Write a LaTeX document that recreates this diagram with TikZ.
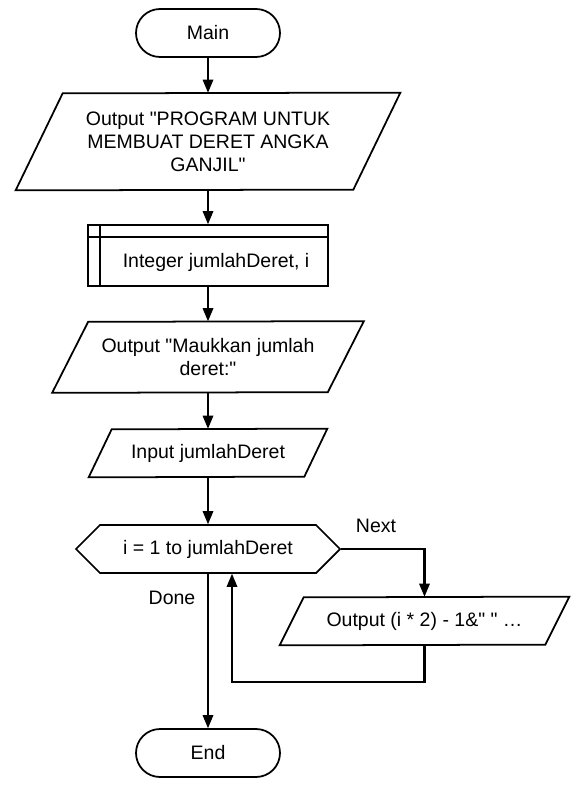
\documentclass[tikz,border=0pt]{standalone}
\usepackage{fontspec}
\setmainfont{Liberation Sans}
\usetikzlibrary{shapes.misc,shapes.symbols}

\begin{document}
\begin{tikzpicture}[scale=0.2]
    \tikzstyle{every node}+=[inner sep=0pt, font=\fontsize{11.1}{13.1}\selectfont, align=center]
    \tikzstyle{box}=[draw=black, line width=1pt]
    \tikzstyle{term}=[box, rounded rectangle, minimum width=28.8mm, minimum height=9.6mm]
    \tikzstyle{io}=[rectangle, minimum height=9.6mm]
    \tikzstyle{flow}=[black, line width=1.7pt, shorten >=1mm]
    \useasboundingbox (0,0) rectangle (58.6,-79.4);
    \node [term] (main) at (20.8,-3.3) {Main};
    \node [io, minimum width=76.8mm, minimum height=19.4mm] (out1) at (20.8,-14.15) {Output \textquotedbl PROGRAM UNTUK\\MEMBUAT DERET ANGKA\\GANJIL\textquotedbl};
    \draw [box] (out1.south west) -- ++(4.7,9.7) -- (out1.north east) -- ++(-4.7,-9.7) -- cycle;
    \node [box, minimum width=48mm, minimum height=12.2mm] (declbox) at (20.8,-25.55) {};
    \node (decl) at (21.6,-26.2) {Integer jumlahDeret, i};
    \draw [box] (declbox.north west) ++(0,-1.3) -- ++(24,0);
    \draw [box] (declbox.north west) ++(1.3,0) -- ++(0,-6.1);
    \node [io, minimum width=62.2mm, minimum height=14.2mm] (out2) at (20.8,-35.7) {Output \textquotedbl Maukkan jumlah\\deret:\textquotedbl};
    \draw [box] (out2.south west) -- ++(3.6,7.1) -- (out2.north east) -- ++(-3.6,-7.1) -- cycle;
    \node [io, minimum width=47.6mm] (inp) at (20.8,-45.3) {Input jumlahDeret};
    \draw [box] (inp.south west) -- ++(2.3,4.8) -- (inp.north east) -- ++(-2.3,-4.8) -- cycle;
    \node [box, signal, signal to=west and east, signal pointer angle=90, minimum width=52.8mm, minimum height=9.6mm] (loop) at (20.8,-54.9) {i = 1 to jumlahDeret};
    \node [io, minimum width=57.8mm] (out3) at (42.45,-62.1) {Output (i * 2) - 1\&\textquotedbl{} \textquotedbl{} …};
    \draw [box] (out3.south west) -- ++(2.4,4.8) -- (out3.north east) -- ++(-2.4,-4.8) -- cycle;
    \node [term] (stop) at (20.8,-75.3) {End};
    \node (next) at (37.6,-52.6) {Next};
    \node (donelbl) at (17.2,-59.8) {Done};
    \coordinate (back) at (23.2,-68.2);
    \draw [flow] (main.south) -- (out1.north);
    \fill [black] (out1.north) -- ++(0.55,1.3) -- ++(-1.1,0) -- cycle;
    \draw [flow] (out1.south) -- (declbox.north);
    \fill [black] (declbox.north) -- ++(0.55,1.3) -- ++(-1.1,0) -- cycle;
    \draw [flow] (declbox.south) -- (out2.north);
    \fill [black] (out2.north) -- ++(0.55,1.3) -- ++(-1.1,0) -- cycle;
    \draw [flow] (out2.south) -- (inp.north);
    \fill [black] (inp.north) -- ++(0.55,1.3) -- ++(-1.1,0) -- cycle;
    \draw [flow] (inp.south) -- (loop.north);
    \fill [black] (loop.north) -- ++(0.55,1.3) -- ++(-1.1,0) -- cycle;
    \draw [flow] (loop.east) -| (out3.north);
    \fill [black] (out3.north) -- ++(0.55,1.3) -- ++(-1.1,0) -- cycle;
    \draw [flow] (out3.south) |- (back) -- (back |- loop.south);
    \fill [black] (back |- loop.south) -- ++(0.55,-1.3) -- ++(-1.1,0) -- cycle;
    \draw [flow] (loop.south) -- (stop.north);
    \fill [black] (stop.north) -- ++(0.55,1.3) -- ++(-1.1,0) -- cycle;
\end{tikzpicture}
\end{document}
